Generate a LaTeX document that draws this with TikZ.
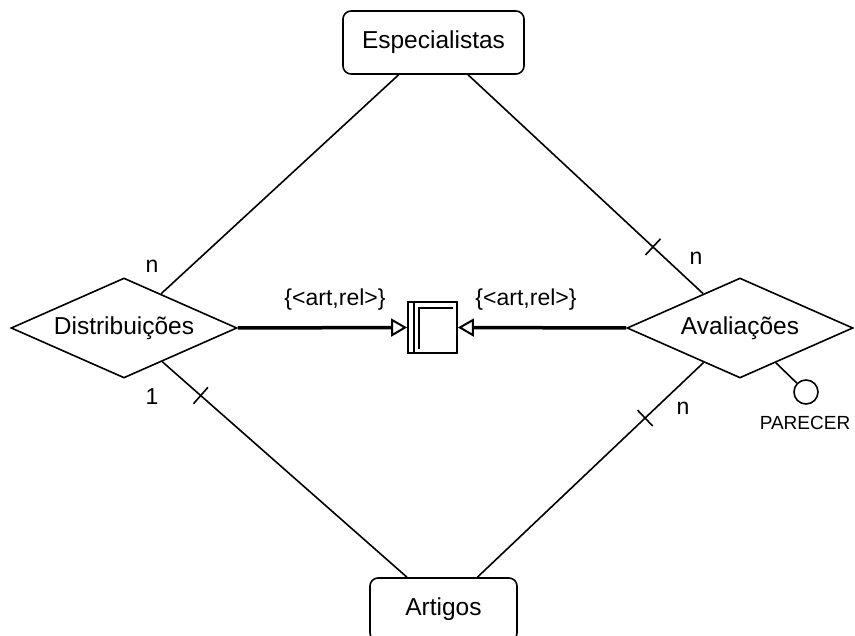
\documentclass[tikz,border=0pt]{standalone}
\usepackage{fontspec}
\setmainfont{Liberation Sans}
\usetikzlibrary{shapes.geometric,arrows.meta,calc}

\tikzset{
  entity/.style={draw, line width=1.6pt, rounded corners=8pt, inner sep=0pt,
                 font=\fontsize{24.5}{28}\selectfont},
  relation/.style={draw, diamond, line width=1.6pt, inner sep=0pt, aspect=2.28,
                   minimum width=226pt, minimum height=100pt,
                   font=\fontsize{24.5}{28}\selectfont},
  link/.style={line width=1.6pt},
  tick/.style={line width=1.6pt},
  card/.style={inner sep=0pt, font=\fontsize{23}{27}\selectfont},
  aggbox/.style={draw, line width=1.8pt, inner sep=0pt,
                 minimum width=49pt, minimum height=51pt},
  feed/.style={line width=3.5pt,
               -{Triangle[open, length=16pt, width=18pt, line width=2pt]}},
  attr/.style={draw, circle, line width=1.6pt, minimum size=24pt, inner sep=0pt},
}

\begin{document}
\begin{tikzpicture}[x=1pt, y=-1pt]
  \useasboundingbox (0,0) rectangle (855,636);

  % entities
  \node[entity, minimum width=181pt, minimum height=63pt] (esp) at (433.5,42.5) {Especialistas};
  \node[entity, minimum width=147pt, minimum height=63pt] (art) at (443.5,609.5) {Artigos};

  % relationships
  \node[relation] (dist) at (124,328) {Distribuições};
  \node[relation] (aval) at (740,328) {Avaliações};

  % aggregate (document) box
  \node[aggbox] (agg) at (432.5,327.5) {};
  \draw[line width=1.8pt] ($(agg.north west)+(7,0)$) -- ($(agg.south west)+(7,0)$);
  \draw[line width=1.3pt] ($(agg.south west)+(12,-5)$) -- ($(agg.north west)+(12,7)$)
                          -- ($(agg.north east)+(-5,7)$);

  % connectors
  \draw[link] (esp) -- (dist);
  \draw[link] (esp) -- (aval);
  \draw[link] (dist) -- (art);
  \draw[link] (aval) -- (art);

  \draw[feed] (dist.east) -- (agg.west);
  \draw[feed] (aval.west) -- (agg.east);

  % attribute
  \node[attr] (par) at (806,392) {};
  \draw[link] (aval) -- (par);
  \node[card, font=\fontsize{19}{23}\selectfont] (parlbl) at (805,423) {PARECER};

  % tick marks
  \coordinate (t1) at ($(esp)!0.716!(aval)$);
  \coordinate (t2) at ($(dist)!0.24!(art)$);
  \coordinate (t3) at ($(aval)!0.32!(art)$);
  \draw[tick] ($(t1)!11pt!90:(aval)$) -- ($(t1)!11pt!-90:(aval)$);
  \draw[tick] ($(t2)!11pt!90:(art)$) -- ($(t2)!11pt!-90:(art)$);
  \draw[tick] ($(t3)!11pt!90:(art)$) -- ($(t3)!11pt!-90:(art)$);

  % cardinalities
  \node[card] (c1) at (152,266) {n};
  \node[card] (c2) at (152,397) {1};
  \node[card] (c3) at (696,258) {n};
  \node[card] (c4) at (683,408) {n};

  % feed labels
  \node[card] (l1) at (335,300) {\{<art,rel>\}};
  \node[card] (l2) at (526,300) {\{<art,rel>\}};
\end{tikzpicture}
\end{document}
